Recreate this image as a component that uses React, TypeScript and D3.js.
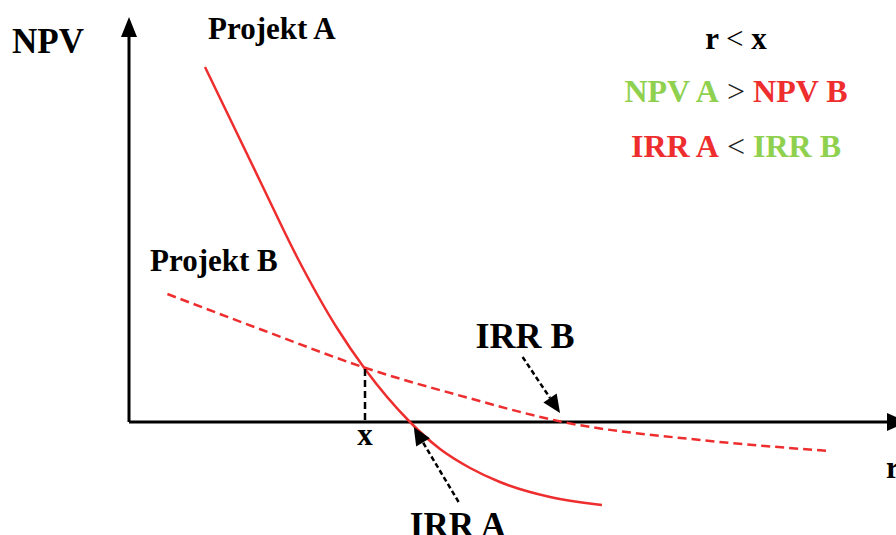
import React from "react";
import * as d3 from "d3";

// Project A (solid) — discount rate r (%) vs NPV
const rA = [2.375, 4.125, 5.25, 6.5, 7.375, 8.78, 9.72, 10.66, 11.59, 13.16, 14.78];
const npvA = [17.75, 11.95, 8.25, 4.7, 2.65, 0, -1.35, -2.3, -3.0, -3.75, -4.15];

// Project B (dashed)
const rB = [1.2, 4.25, 7.4, 10.5, 13.56, 17.85, 21.9];
const npvB = [6.4, 4.55, 2.7, 1.25, 0, -0.9, -1.45];

// Key rates
const crossR = 7.375;
const crossNpv = 2.65;
const irrA = 8.78;
const irrB = 13.56;

// Annotation arrows: [fromR, fromNpv, toR, toNpv]
const arrowIrrB = [12.3, 3.25, 13.47, 0.45];
const arrowIrrA = [10.3, -4.0, 8.9, -0.25];

const W = 896;
const H = 535;
const RED = "#ee2e2e";
const GREEN = "#8fd14f";
const FONT = "'Liberation Serif', 'Times New Roman', serif";

export default function App() {
  const x = d3.scaleLinear().domain([0, 24]).range([129, 897]);
  const y = d3.scaleLinear().domain([-4, 20]).range([502, 22]);

  const line = d3
    .line<[number, number]>()
    .x((d) => x(d[0]))
    .y((d) => y(d[1]))
    .curve(d3.curveMonotoneX);

  const ptsA = rA.map((r, i) => [r, npvA[i]] as [number, number]);
  const ptsB = rB.map((r, i) => [r, npvB[i]] as [number, number]);

  const x0 = x(0);
  const y0 = y(0);

  const arrow = (a: number[]) => {
    const x1 = x(a[0]), y1 = y(a[1]), x2 = x(a[2]), y2 = y(a[3]);
    const ang = Math.atan2(y2 - y1, x2 - x1);
    const len = 18, half = 8;
    const bx = x2 - len * Math.cos(ang), by = y2 - len * Math.sin(ang);
    const px = -Math.sin(ang) * half, py = Math.cos(ang) * half;
    return (
      <g>
        <line x1={x1} y1={y1} x2={bx} y2={by} stroke="#000" strokeWidth={2.5} strokeDasharray="5,3" />
        <polygon points={`${x2},${y2} ${bx + px},${by + py} ${bx - px},${by - py}`} fill="#000" />
      </g>
    );
  };

  const textStyle = { fontFamily: FONT, fontWeight: 700 } as React.CSSProperties;

  return (
    <div style={{ position: "fixed", left: 0, top: 0, width: W, height: H, background: "#fff" }}>
      <svg width={W} height={H} style={{ display: "block" }}>
        <rect width={W} height={H} fill="#fff" />
        {/* axes */}
        <line x1={x0} y1={y0} x2={x0} y2={34} stroke="#000" strokeWidth={3} />
        <polygon points={`${x0},17 ${x0 - 8},37 ${x0 + 8},37`} fill="#000" />
        <line x1={x0} y1={y0} x2={890} y2={y0} stroke="#000" strokeWidth={3} />
        <polygon points={`${907},${y0} ${887},${y0 - 9} ${887},${y0 + 9}`} fill="#000" />

        {/* curves */}
        <path d={line(ptsB) || ""} fill="none" stroke={RED} strokeWidth={2.5} strokeDasharray="9,5" />
        <path d={line(ptsA) || ""} fill="none" stroke={RED} strokeWidth={2.5} />

        {/* x marker */}
        <line x1={x(crossR)} y1={y(crossNpv)} x2={x(crossR)} y2={y0} stroke="#000" strokeWidth={2.5} strokeDasharray="7,4" />

        {arrow(arrowIrrB)}
        {arrow(arrowIrrA)}

        {/* labels */}
        <text x={12} y={53} fontSize={35} style={textStyle} fill="#000">NPV</text>
        <text x={208} y={39} fontSize={31} style={textStyle} fill="#000">Projekt A</text>
        <text x={150} y={271} fontSize={31} style={textStyle} fill="#000">Projekt B</text>
        <text x={525} y={348} fontSize={36} style={textStyle} fill="#000" textAnchor="middle">IRR B</text>
        <text x={x(crossR)} y={445} fontSize={31} style={textStyle} fill="#000" textAnchor="middle">x</text>
        <text x={458} y={537} fontSize={35} style={textStyle} fill="#000" textAnchor="middle">IRR A</text>
        <text x={886} y={478} fontSize={31} style={textStyle} fill="#000">r</text>

        <text x={736} y={49} fontSize={31} style={textStyle} fill="#000" textAnchor="middle">
          r <tspan fontWeight={400}>&lt;</tspan> x
        </text>
        <text x={736} y={102} fontSize={32} style={textStyle} textAnchor="middle">
          <tspan fill={GREEN}>NPV A</tspan>
          <tspan fill="#222" fontWeight={400}> &gt; </tspan>
          <tspan fill={RED}>NPV B</tspan>
        </text>
        <text x={736} y={157} fontSize={32} style={textStyle} textAnchor="middle">
          <tspan fill={RED}>IRR A</tspan>
          <tspan fill="#222" fontWeight={400}> &lt; </tspan>
          <tspan fill={GREEN}>IRR B</tspan>
        </text>
      </svg>
    </div>
  );
}
